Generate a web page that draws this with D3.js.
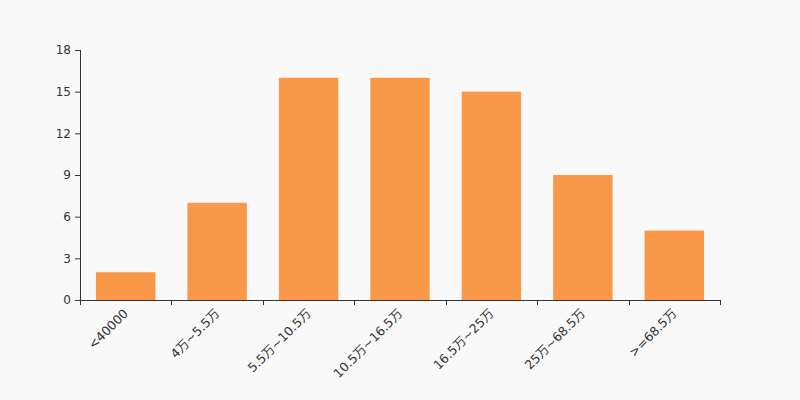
<!DOCTYPE html>
<html><head><meta charset="utf-8">
<script src="https://cdn.jsdelivr.net/npm/d3@7/dist/d3.min.js"></script>
<style>
html,body{margin:0;padding:0;background:#f9f9f9;}
text{font-family:"DejaVu Sans","Noto Sans CJK SC",sans-serif;}
</style></head><body>
<svg id="c" width="800" height="400"></svg>
<script>
const categories = ["<40000","4万~5.5万","5.5万~10.5万","10.5万~16.5万","16.5万~25万","25万~68.5万",">=68.5万"];
const values = [2,7,16,16,15,9,5];
const yTicks = [0,3,6,9,12,15,18];

const svg = d3.select("#c");
const L=80,R=720,T=50,B=300;
const x = d3.scaleBand().domain(categories).range([L,R]).padding(0);
const y = d3.scaleLinear().domain([0,18]).range([B,T]);
const step = x.bandwidth();

svg.append("rect").attr("width",800).attr("height",400).attr("fill","#f9f9f9");

svg.selectAll("rect.bar").data(values).enter().append("rect")
  .attr("class","bar")
  .attr("x",(d,i)=>x(categories[i])+step*0.175)
  .attr("width",step*0.65)
  .attr("y",d=>y(d))
  .attr("height",d=>B-y(d))
  .attr("fill","#f99848");

// y axis
const ya = svg.append("g").attr("transform",`translate(${L},0)`)
  .call(d3.axisLeft(y).tickValues(yTicks).tickSize(5).tickPadding(4));
ya.selectAll(".domain").attr("stroke","#333").attr("d",`M0.5,${T}V${B}`);
ya.selectAll(".tick line").attr("stroke","#333");
ya.selectAll(".tick text").attr("fill","#333").attr("font-size",12);

// x axis
const xa = svg.append("g").attr("transform",`translate(0,${B})`);
xa.append("line").attr("x1",L).attr("x2",R).attr("y1",0.5).attr("y2",0.5).attr("stroke","#333");
const edges = categories.map(c=>x(c)).concat([R]);
xa.selectAll("line.t").data(edges).enter().append("line")
  .attr("x1",d=>Math.round(d)+0.5).attr("x2",d=>Math.round(d)+0.5)
  .attr("y1",0).attr("y2",5).attr("stroke","#333");
xa.selectAll("text").data(categories).enter().append("text")
  .attr("transform",d=>`translate(${x(d)+step/2-3},8) rotate(-45)`)
  .attr("text-anchor","end").attr("dy","0.71em")
  .attr("font-size",12.5).attr("fill","#333")
  .text(d=>d);
</script>
</body></html>
